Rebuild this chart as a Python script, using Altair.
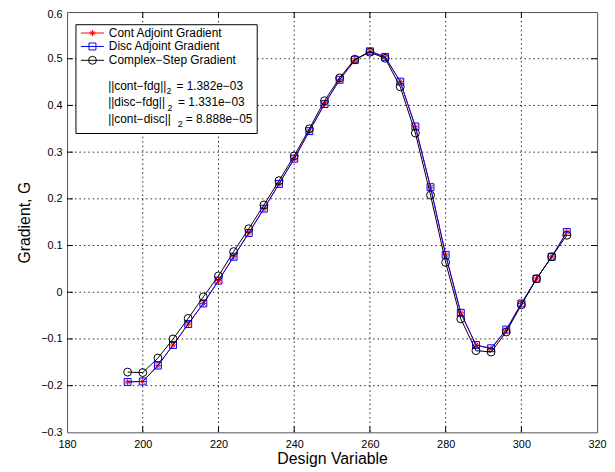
import altair as alt
import pandas as pd

# ---- data ----
design_var = [196, 200, 204, 208, 212, 216, 220, 224, 228, 232, 236, 240, 244, 248, 252,
              256, 260, 264, 268, 272, 276, 280, 284, 288, 292, 296, 300, 304, 308, 312]
cont_adjoint = [-0.192, -0.191, -0.157, -0.113, -0.068, -0.024, 0.025, 0.076, 0.127, 0.179,
                0.232, 0.286, 0.345, 0.403, 0.455, 0.497, 0.516, 0.504, 0.451, 0.354,
                0.225, 0.080, -0.044, -0.113, -0.121, -0.081, -0.024, 0.029, 0.076, 0.129]
disc_adjoint = [-0.192, -0.191, -0.157, -0.113, -0.068, -0.024, 0.025, 0.076, 0.127, 0.179,
                0.232, 0.286, 0.345, 0.403, 0.455, 0.497, 0.516, 0.504, 0.451, 0.355,
                0.225, 0.080, -0.044, -0.113, -0.120, -0.080, -0.024, 0.029, 0.076, 0.129]
complex_step = [-0.171, -0.172, -0.141, -0.100, -0.056, -0.010, 0.035, 0.087, 0.136, 0.187,
                0.239, 0.292, 0.350, 0.410, 0.459, 0.499, 0.514, 0.501, 0.440, 0.341,
                0.208, 0.064, -0.057, -0.125, -0.128, -0.085, -0.027, 0.029, 0.076, 0.122]

x_ticks = [180, 200, 220, 240, 260, 280, 300, 320]
y_ticks = [-0.3, -0.2, -0.1, 0.0, 0.1, 0.2, 0.3, 0.4, 0.5, 0.6]

series_names = ["Cont Adjoint Gradient", "Disc Adjoint Gradient", "Complex\u2212Step Gradient"]
series_colors = ["#ff0000", "#0000ff", "#000000"]
norm_main = ["||cont\u2212fdg||", "||disc\u2212fdg||", "||cont\u2212disc||"]
norm_rest = ["= 1.382e\u221203", "= 1.331e\u221203", "= 8.888e\u221205"]

FONT = "Liberation Sans"
W, H = 536, 425
ASTERISK = "M-1,0L1,0M0,-1L0,1M-0.7,-0.7L0.7,0.7M-0.7,0.7L0.7,-0.7"
shapes = [ASTERISK, "square", "circle"]
sizes = [40, 49, 64]

xscale = alt.Scale(domain=[180, 320], nice=False, zero=False)
yscale = alt.Scale(domain=[-0.3, 0.6], nice=False, zero=False)
xaxis = alt.Axis(values=x_ticks, grid=False, ticks=False, tickSize=0, domain=False,
                 labelFlush=False, labelOverlap=False, labelPadding=6,
                 labelFont=FONT, labelFontSize=11, labelColor="black",
                 title="Design Variable", titleFont=FONT, titleFontSize=16,
                 titleFontWeight="normal", titleColor="black", titlePadding=2)
yaxis = alt.Axis(values=y_ticks, grid=False, ticks=False, tickSize=0, domain=False,
                 labelFlush=False, labelOverlap=False, labelPadding=5,
                 labelOffset={"condition": {"test": "datum.value >= 0.59", "value": 2.5}, "value": 0},
                 labelExpr="datum.value == 0 ? '0' : format(datum.value, '.1f')",
                 labelFont=FONT, labelFontSize=11, labelColor="black",
                 title="Gradient, G", titleFont=FONT, titleFontSize=16,
                 titleFontWeight="normal", titleColor="black", titlePadding=8)
xenc = alt.X("x:Q", scale=xscale, axis=xaxis)
yenc = alt.Y("y:Q", scale=yscale, axis=yaxis)

layers = []

# dotted grid
gx = pd.DataFrame({"x": x_ticks[1:-1]})
gy = pd.DataFrame({"y": y_ticks[1:-1]})
grid_style = dict(color="black", strokeDash=[1.5, 3], strokeWidth=1, opacity=0.85)
layers.append(alt.Chart(gx).mark_rule(**grid_style).encode(x=xenc))
layers.append(alt.Chart(gy).mark_rule(**grid_style).encode(y=yenc))

# inward ticks (MATLAB style)
tick_style = dict(color="black", strokeWidth=1)
layers.append(alt.Chart(gx).mark_rule(**tick_style).encode(x=xenc, y=alt.value(H), y2=alt.value(H - 6)))
layers.append(alt.Chart(gx).mark_rule(**tick_style).encode(x=xenc, y=alt.value(0), y2=alt.value(6)))
layers.append(alt.Chart(gy).mark_rule(**tick_style).encode(y=yenc, x=alt.value(0), x2=alt.value(6)))
layers.append(alt.Chart(gy).mark_rule(**tick_style).encode(y=yenc, x=alt.value(W), x2=alt.value(W - 6)))

# data series
for vals, col, shp, sz in zip([cont_adjoint, disc_adjoint, complex_step], series_colors, shapes, sizes):
    df = pd.DataFrame({"x": design_var, "y": vals})
    layers.append(alt.Chart(df).mark_line(color=col, strokeWidth=1).encode(x=xenc, y=yenc))
    layers.append(alt.Chart(df).mark_point(shape=shp, size=sz, filled=False, color=col,
                                           strokeWidth=1, opacity=1).encode(x=xenc, y=yenc))

# legend box
one = pd.DataFrame({"k": [0]})
layers.append(alt.Chart(one).mark_rect(fill="white", stroke="black", strokeWidth=1).encode(
    x=alt.value(9), x2=alt.value(192.3), y=alt.value(12.8), y2=alt.value(122.8)))

row_y = [21.2, 34.8, 48.8]
for name, col, shp, sz, ry in zip(series_names, series_colors, shapes, sizes, row_y):
    layers.append(alt.Chart(one).mark_rule(color=col, strokeWidth=1).encode(
        x=alt.value(14), x2=alt.value(37.3), y=alt.value(ry)))
    layers.append(alt.Chart(one).mark_point(shape=shp, size=sz, filled=False, color=col,
                                            strokeWidth=1, opacity=1).encode(
        x=alt.value(25.7), y=alt.value(ry)))
    layers.append(alt.Chart(pd.DataFrame({"t": [name]})).mark_text(
        font=FONT, fontSize=12, align="left", baseline="middle", color="black").encode(
        x=alt.value(42.3), y=alt.value(ry), text="t:N"))

norm_y = [74.5, 91.2, 107.8]
sub_x = [100.5, 101.5, 112.0]
rest_x = [110.6, 112.3, 120.0]
for m, r, ny, sx, rx in zip(norm_main, norm_rest, norm_y, sub_x, rest_x):
    layers.append(alt.Chart(pd.DataFrame({"t": [m]})).mark_text(
        font=FONT, fontSize=12, align="left", baseline="middle", color="black").encode(
        x=alt.value(41.6), y=alt.value(ny), text="t:N"))
    layers.append(alt.Chart(pd.DataFrame({"t": ["2"]})).mark_text(
        font=FONT, fontSize=9, align="left", baseline="middle", color="black").encode(
        x=alt.value(sx), y=alt.value(ny + 5.5), text="t:N"))
    layers.append(alt.Chart(pd.DataFrame({"t": [r]})).mark_text(
        font=FONT, fontSize=12, align="left", baseline="middle", color="black").encode(
        x=alt.value(rx), y=alt.value(ny), text="t:N"))

chart = alt.layer(*layers).properties(
    width=W, height=H,
    autosize=alt.AutoSizeParams(type="none"),
    padding={"left": 59.7, "top": 1.5, "right": 10, "bottom": 37},
    background="white",
).configure_view(stroke="#555555", strokeWidth=1)

chart.save("out.html", embed_options={"renderer": "svg", "actions": False})
